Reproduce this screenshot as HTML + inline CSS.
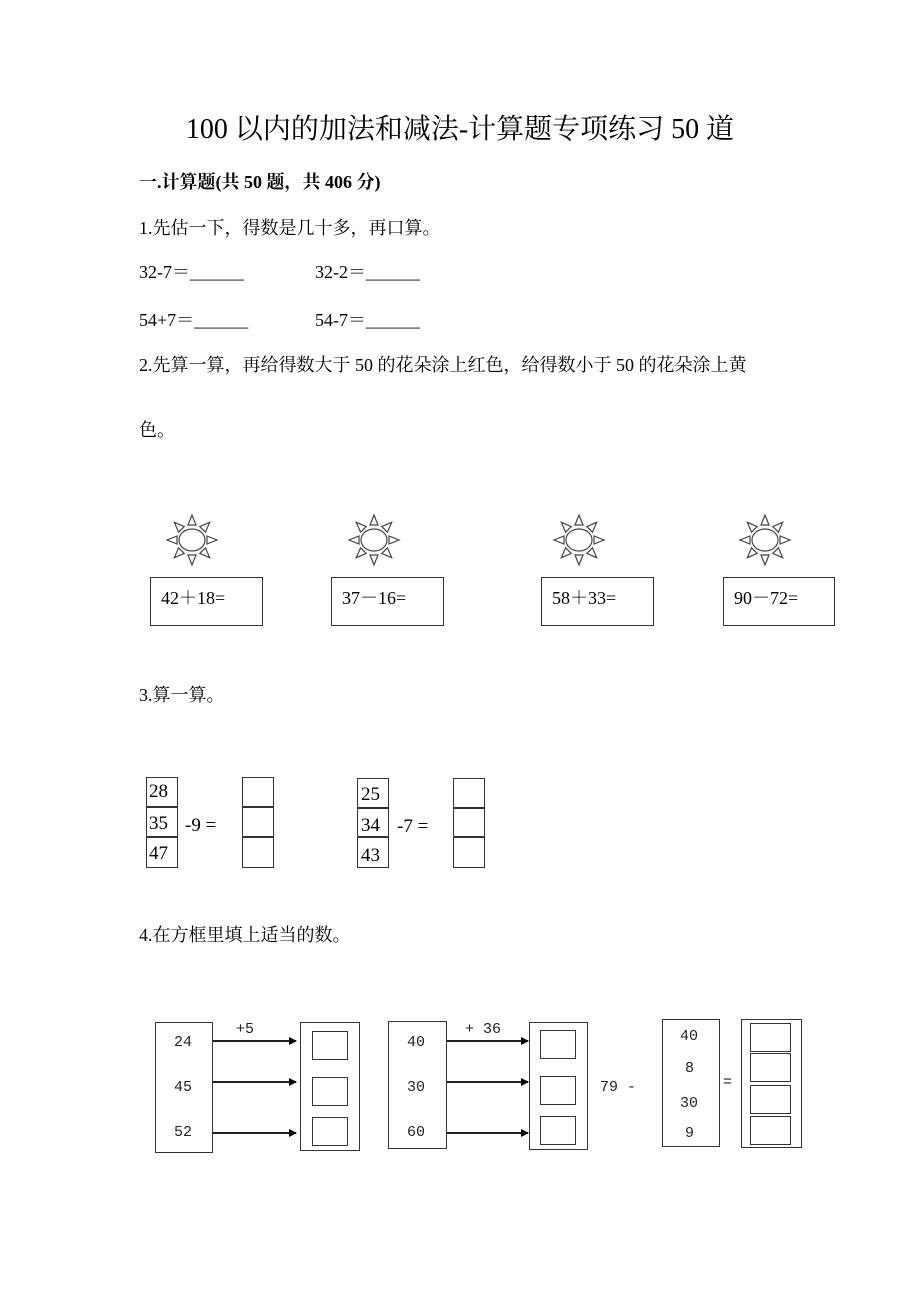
<!DOCTYPE html><html><head><meta charset="utf-8"><style>
body{margin:0;width:920px;height:1302px;background:#fff;position:relative;font-family:"Liberation Serif","Noto Serif CJK SC",serif;color:#000}
.t{position:absolute;white-space:nowrap;font-size:18px;line-height:1}
.b{position:absolute;border:1.5px solid #333;box-sizing:border-box}
.m{font-family:"Liberation Mono","Noto Sans CJK SC",monospace;font-size:15px;color:#222}
</style></head><body>
<div class="t" style="left:0;width:920px;text-align:center;top:116px;font-size:28px">100 以内的加法和减法-计算题专项练习 50 道</div>
<div class="t" style="left:139px;top:173px;font-weight:bold">一.计算题(共 50 题，共 406 分)</div>
<div class="t" style="left:139px;top:219px">1.先估一下，得数是几十多，再口算。</div>
<div class="t" style="left:139px;top:263px">32-7＝______</div>
<div class="t" style="left:315px;top:263px">32-2＝______</div>
<div class="t" style="left:139px;top:311px">54+7＝______</div>
<div class="t" style="left:315px;top:311px">54-7＝______</div>
<div class="t" style="left:139px;top:356px">2.先算一算，再给得数大于 50 的花朵涂上红色，给得数小于 50 的花朵涂上黄</div>
<div class="t" style="left:139px;top:421px">色。</div>
<svg style="position:absolute;left:0;top:0" width="920" height="1302">
<defs><g id="sun" fill="none" stroke="#444" stroke-width="1.2">
<ellipse cx="0" cy="0" rx="13" ry="11"/>
<g id="ray"><polygon points="-4,-15 4,-15 0,-25"/></g>
<use href="#ray" transform="rotate(45)"/><use href="#ray" transform="rotate(90)"/><use href="#ray" transform="rotate(135)"/><use href="#ray" transform="rotate(180)"/><use href="#ray" transform="rotate(225)"/><use href="#ray" transform="rotate(270)"/><use href="#ray" transform="rotate(315)"/>
</g>
<marker id="ar" markerWidth="8" markerHeight="8" refX="7" refY="4" orient="auto" markerUnits="userSpaceOnUse"><polygon points="0,0 8,4 0,8" fill="#000"/></marker></defs>
<use href="#sun" x="192" y="540"/><use href="#sun" x="374" y="540"/><use href="#sun" x="579" y="540"/><use href="#sun" x="765" y="540"/>
<g stroke="#222" stroke-width="2" marker-end="url(#ar)">
<line x1="212" y1="1041" x2="296" y2="1041"/><line x1="212" y1="1082" x2="296" y2="1082"/><line x1="212" y1="1133" x2="296" y2="1133"/>
<line x1="446" y1="1041" x2="528" y2="1041"/><line x1="446" y1="1082" x2="528" y2="1082"/><line x1="446" y1="1133" x2="528" y2="1133"/>
</g></svg>
<div class="b" style="left:150px;top:577px;width:113px;height:49px"></div><div class="t" style="left:161px;top:589px">42＋18=</div>
<div class="b" style="left:331px;top:577px;width:113px;height:49px"></div><div class="t" style="left:342px;top:589px">37－16=</div>
<div class="b" style="left:541px;top:577px;width:113px;height:49px"></div><div class="t" style="left:552px;top:589px">58＋33=</div>
<div class="b" style="left:723px;top:577px;width:112px;height:49px"></div><div class="t" style="left:734px;top:589px">90－72=</div>
<div class="t" style="left:139px;top:686px">3.算一算。</div>
<div class="b" style="left:146px;top:777px;width:32px;height:31px"></div><div class="b" style="left:146px;top:806px;width:32px;height:32px"></div><div class="b" style="left:146px;top:836px;width:32px;height:32px"></div>
<div class="t" style="left:149px;top:782px;font-size:19px">28</div><div class="t" style="left:149px;top:814px;font-size:19px">35</div><div class="t" style="left:149px;top:844px;font-size:19px">47</div>
<div class="t" style="left:185px;top:816px;font-size:19px">-9 =</div>
<div class="b" style="left:242px;top:777px;width:32px;height:31px"></div><div class="b" style="left:242px;top:806px;width:32px;height:32px"></div><div class="b" style="left:242px;top:836px;width:32px;height:32px"></div>
<div class="b" style="left:357px;top:778px;width:32px;height:31px"></div><div class="b" style="left:357px;top:807px;width:32px;height:31px"></div><div class="b" style="left:357px;top:836px;width:32px;height:32px"></div>
<div class="t" style="left:361px;top:785px;font-size:19px">25</div><div class="t" style="left:361px;top:816px;font-size:19px">34</div><div class="t" style="left:361px;top:846px;font-size:19px">43</div>
<div class="t" style="left:397px;top:817px;font-size:19px">-7 =</div>
<div class="b" style="left:453px;top:778px;width:32px;height:31px"></div><div class="b" style="left:453px;top:807px;width:32px;height:31px"></div><div class="b" style="left:453px;top:836px;width:32px;height:32px"></div>
<div class="t" style="left:139px;top:926px">4.在方框里填上适当的数。</div>
<div class="b" style="left:155px;top:1022px;width:58px;height:131px"></div>
<div class="t m" style="left:174px;top:1035px">24</div><div class="t m" style="left:174px;top:1080px">45</div><div class="t m" style="left:174px;top:1125px">52</div>
<div class="t m" style="left:236px;top:1022px">+5</div>
<div class="b" style="left:300px;top:1022px;width:60px;height:129px"></div>
<div class="b" style="left:312px;top:1031px;width:36px;height:29px"></div><div class="b" style="left:312px;top:1077px;width:36px;height:29px"></div><div class="b" style="left:312px;top:1117px;width:36px;height:29px"></div>
<div class="b" style="left:388px;top:1021px;width:59px;height:128px"></div>
<div class="t m" style="left:407px;top:1035px">40</div><div class="t m" style="left:407px;top:1080px">30</div><div class="t m" style="left:407px;top:1125px">60</div>
<div class="t m" style="left:465px;top:1022px">+ 36</div>
<div class="b" style="left:529px;top:1022px;width:59px;height:128px"></div>
<div class="b" style="left:540px;top:1030px;width:36px;height:29px"></div><div class="b" style="left:540px;top:1076px;width:36px;height:29px"></div><div class="b" style="left:540px;top:1116px;width:36px;height:29px"></div>
<div class="t m" style="left:600px;top:1080px">79 -</div>
<div class="b" style="left:662px;top:1019px;width:58px;height:128px"></div>
<div class="t m" style="left:680px;top:1029px">40</div><div class="t m" style="left:685px;top:1061px">8</div><div class="t m" style="left:680px;top:1096px">30</div><div class="t m" style="left:685px;top:1126px">9</div>
<div class="t m" style="left:723px;top:1075px">=</div>
<div class="b" style="left:741px;top:1019px;width:61px;height:129px"></div>
<div class="b" style="left:750px;top:1023px;width:41px;height:29px"></div><div class="b" style="left:750px;top:1053px;width:41px;height:29px"></div><div class="b" style="left:750px;top:1085px;width:41px;height:29px"></div><div class="b" style="left:750px;top:1116px;width:41px;height:29px"></div>
</body></html>
